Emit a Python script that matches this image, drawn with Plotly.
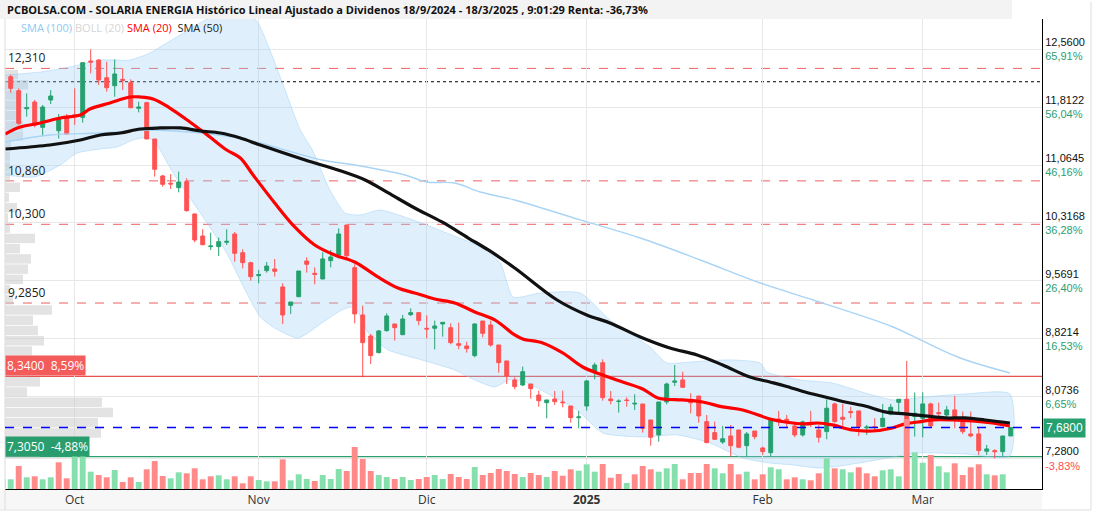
import plotly.graph_objects as go
import pandas as pd
import numpy as np

# ---------------- data ----------------
holidays = ['2024-12-25', '2024-12-26', '2025-01-01']
dates = [d for d in pd.bdate_range('2024-09-18', '2025-03-18') if d.strftime('%Y-%m-%d') not in holidays]

opens = [12.13, 12.203, 12.023, 11.791, 11.877, 11.550, 11.903, 11.507, 11.688, 11.713,
         11.679, 12.405, 12.418, 12.190, 12.087, 12.169, 12.126, 11.795, 11.868, 11.400,
         10.923, 10.830, 10.772, 10.850, 10.433, 10.149, 10.012, 10.012, 10.068, 10.175,
         9.934, 9.805, 9.638, 9.702, 9.724, 9.492, 9.255, 9.367, 9.827, 9.668,
         9.595, 9.831, 9.904, 10.291, 9.741, 9.131, 8.860, 8.645, 8.929, 9.015,
         8.877, 9.135, 9.161, 8.959, 8.959, 9.015, 8.967, 8.761, 8.731, 8.607,
         9.053, 9.002, 8.744, 8.538, 8.293, 8.228, 8.241, 8.099, 8.000, 8.048,
         8.009, 7.957, 7.807, 7.957, 8.387, 8.516, 8.048, 8.015, 8.035, 7.983,
         7.983, 7.777, 7.584, 8.009, 8.263, 8.293, 8.013, 8.086, 7.756, 7.614,
         7.493, 7.571, 7.648, 7.446, 7.635, 7.416, 7.356, 7.790, 7.786, 7.700,
         7.584, 7.730, 7.649, 7.627, 7.984, 7.812, 7.885, 7.894, 7.675, 7.690,
         7.692, 7.851, 8.005, 8.044, 7.821, 7.799, 7.984, 7.872, 7.842, 7.907,
         7.778, 7.597, 7.597, 7.374, 7.382, 7.369, 7.571]
highs = [12.16, 12.229, 12.053, 11.988, 11.903, 11.838, 12.031, 11.722, 11.722, 12.053,
         12.384, 12.556, 12.427, 12.397, 12.427, 12.311, 12.169, 11.881, 11.881, 11.400,
         10.936, 10.948, 10.979, 10.893, 10.441, 10.235, 10.192, 10.128, 10.235, 10.201,
         9.977, 9.818, 9.711, 9.814, 9.853, 9.539, 9.298, 9.698, 9.874, 9.745,
         9.939, 9.969, 10.248, 10.291, 9.784, 9.251, 8.886, 8.937, 9.152, 9.015,
         9.131, 9.217, 9.161, 9.126, 9.058, 9.036, 9.023, 9.032, 8.787, 9.023,
         9.053, 9.058, 8.744, 8.538, 8.327, 8.465, 8.241, 8.155, 8.035, 8.151,
         8.155, 7.957, 7.893, 8.293, 8.516, 8.559, 8.151, 8.043, 8.069, 8.108,
         7.983, 7.777, 8.009, 8.258, 8.486, 8.400, 8.121, 8.086, 7.841, 7.756,
         7.700, 7.713, 7.648, 7.622, 7.635, 7.433, 7.799, 7.894, 7.842, 7.756,
         7.769, 7.894, 7.713, 8.044, 8.001, 7.984, 7.949, 7.894, 7.713, 7.799,
         7.984, 7.984, 8.044, 8.538, 8.130, 8.134, 8.001, 8.001, 7.958, 8.087,
         7.885, 7.885, 7.683, 7.455, 7.399, 7.571, 7.680]
lows = [11.98, 11.997, 11.580, 11.688, 11.550, 11.438, 11.851, 11.408, 11.451, 11.580,
        11.610, 12.246, 12.096, 12.010, 11.945, 12.031, 11.795, 11.743, 11.400, 10.914,
        10.785, 10.755, 10.712, 10.463, 10.068, 10.029, 9.969, 9.891, 10.033, 9.818,
        9.732, 9.573, 9.539, 9.677, 9.625, 9.015, 9.144, 9.359, 9.677, 9.526,
        9.591, 9.745, 9.861, 9.861, 9.023, 8.327, 8.499, 8.637, 8.916, 8.800,
        8.869, 9.118, 8.998, 8.830, 8.688, 8.851, 8.753, 8.688, 8.645, 8.585,
        8.843, 8.722, 8.387, 8.241, 8.172, 8.215, 8.052, 7.949, 7.798, 7.970,
        7.940, 7.743, 7.670, 7.897, 8.301, 8.026, 7.979, 7.872, 7.949, 7.906,
        7.614, 7.446, 7.498, 7.979, 8.215, 8.198, 7.863, 7.743, 7.476, 7.519,
        7.468, 7.304, 7.412, 7.304, 7.528, 7.326, 7.305, 7.700, 7.683, 7.554,
        7.563, 7.683, 7.485, 7.528, 7.743, 7.670, 7.799, 7.571, 7.584, 7.627,
        7.683, 7.838, 7.842, 7.606, 7.563, 7.554, 7.683, 7.778, 7.786, 7.670,
        7.597, 7.554, 7.326, 7.326, 7.283, 7.313, 7.571]
closes = [12.02, 12.053, 11.602, 11.804, 11.580, 11.812, 11.954, 11.658, 11.464, 11.688,
          12.384, 12.392, 12.160, 12.061, 12.238, 12.156, 11.804, 11.812, 11.400, 11.009,
          10.815, 10.820, 10.845, 10.476, 10.098, 10.037, 10.020, 10.076, 10.080, 9.926,
          9.805, 9.625, 9.651, 9.762, 9.694, 9.131, 9.298, 9.698, 9.784, 9.655,
          9.853, 9.879, 10.175, 9.896, 9.144, 8.774, 8.607, 8.925, 9.118, 8.967,
          9.079, 9.161, 9.058, 8.950, 8.989, 9.036, 8.774, 8.740, 8.697, 9.015,
          8.894, 8.744, 8.516, 8.344, 8.207, 8.400, 8.181, 8.026, 8.035, 8.013,
          8.000, 7.807, 7.816, 8.280, 8.486, 8.065, 8.026, 8.020, 8.028, 7.992,
          7.670, 7.554, 8.009, 8.241, 8.280, 8.198, 8.000, 7.829, 7.485, 7.528,
          7.535, 7.446, 7.425, 7.597, 7.562, 7.369, 7.775, 7.780, 7.769, 7.584,
          7.752, 7.720, 7.554, 7.928, 7.756, 7.786, 7.872, 7.690, 7.685, 7.680,
          7.799, 7.941, 8.044, 7.614, 7.864, 7.984, 7.700, 7.859, 7.907, 7.778,
          7.627, 7.571, 7.382, 7.404, 7.369, 7.5702, 7.680]
volumes = [100, 97, 230, 117, 127, 97, 117, 267, 107, 367,
           363, 173, 140, 117, 190, 70, 117, 70, 197, 280,
           130, 107, 167, 157, 207, 97, 127, 137, 97, 127,
           57, 127, 90, 77, 77, 297, 87, 147, 100, 80,
           140, 100, 200, 180, 420, 300, 180, 140, 120, 100,
           120, 90, 100, 120, 140, 100, 150, 120, 100, 220,
           140, 160, 200, 180, 150, 120, 160, 140, 120, 180,
           133, 197, 183, 247, 173, 250, 113, 150, 60, 147,
           230, 197, 173, 207, 250, 97, 160, 160, 250, 207,
           157, 250, 147, 173, 97, 147, 217, 197, 97, 117,
           97, 87, 157, 307, 207, 197, 167, 217, 157, 127,
           187, 197, 127, 700, 367, 263, 340, 227, 167, 257,
           140, 217, 247, 147, 137, 147, 0]

# moving averages / bands (sample index, value)
sma20_x = [0.3, 2.2, 4.7, 7.2, 9.7, 10.9, 13.4, 15.9, 17.2, 18.8, 20.9, 23.4, 25.9, 28.0, 29.7, 31.3,
           34.0, 36.5, 39.0, 41.5, 44.0, 46.9, 49.4, 51.5, 54.0, 56.5, 59.0, 61.5, 64.0, 65.0, 67.5,
           70.0, 72.5, 75.0, 77.5, 80.0, 81.9, 85.0, 87.5, 90.0, 92.5, 95.9, 97.8, 100.3, 101.9, 103.7,
           106.2, 108.7, 111.2, 112.8, 114.4, 116.2, 118.7, 121.2, 123.7, 125.9]
sma20_y = [11.464, 11.554, 11.606, 11.670, 11.709, 11.786, 11.864, 11.941, 11.941, 11.915, 11.799,
           11.619, 11.426, 11.258, 11.155, 10.936, 10.575, 10.266, 10.033, 9.904, 9.814, 9.621, 9.479,
           9.415, 9.337, 9.286, 9.170, 9.067, 8.873, 8.821, 8.770, 8.641, 8.460, 8.357, 8.267, 8.177,
           8.061, 8.035, 8.009, 7.945, 7.906, 7.790, 7.751, 7.726, 7.738, 7.713, 7.648, 7.635, 7.674,
           7.726, 7.751, 7.777, 7.777, 7.764, 7.738, 7.700]
sma50_x = [0.3, 3.4, 5.9, 9.7, 12.2, 14.7, 17.2, 19.7, 22.2, 24.7, 27.2, 29.7, 32.2, 37.8, 41.9, 45.3,
           48.2, 51.5, 54.9, 58.2, 60.7, 64.0, 69.3, 73.0, 75.9, 80.0, 83.4, 86.8, 90.0, 93.4, 95.9,
           97.8, 100.3, 102.8, 105.3, 107.8, 110.3, 112.8, 115.3, 117.8, 120.3, 122.8, 125.9]
sma50_y = [11.271, 11.297, 11.322, 11.387, 11.451, 11.477, 11.529, 11.542, 11.542, 11.503, 11.477,
           11.413, 11.322, 11.129, 11.000, 10.871, 10.704, 10.510, 10.330, 10.123, 9.969, 9.737, 9.324,
           9.131, 9.028, 8.834, 8.705, 8.615, 8.486, 8.331, 8.267, 8.216, 8.138, 8.074, 8.009, 7.958,
           7.881, 7.855, 7.829, 7.803, 7.803, 7.777, 7.738]
sma100_x = [0.3, 5.9, 12.2, 18.4, 24.7, 28.8, 32.2, 39.9, 44.0, 50.3, 53.0, 56.5, 59.7, 64.0, 72.2,
            79.7, 87.2, 94.7, 101.3, 105.9, 111.3, 115.5, 119.7, 125.9]
sma100_y = [11.361, 11.451, 11.477, 11.516, 11.477, 11.426, 11.348, 11.129, 11.065, 10.936, 10.845,
            10.832, 10.716, 10.613, 10.356, 10.123, 9.840, 9.543, 9.324, 9.170, 8.976, 8.770, 8.576, 8.383]
boll_up_x = [0.3, 4.7, 8.4, 12.2, 15.9, 18.4, 20.5, 22.2, 24.7, 27.8, 30.3, 31.9, 33.4, 35.3, 37.2, 38.7,
             40.9, 42.8, 44.7, 47.2, 51.3, 55.5, 59.7, 62.2, 63.8, 67.2, 72.2, 75.9, 80.9, 83.0, 85.9,
             90.9, 94.7, 95.5, 99.7, 103.7, 107.8, 111.3, 115.3, 120.3, 125.9]
boll_up_y = [12.225, 12.263, 12.328, 12.418, 12.418, 12.508, 12.637, 12.740, 12.900, 13.050, 13.050,
             12.900, 12.547, 12.031, 11.516, 11.258, 10.742, 10.446, 10.420, 10.484, 10.356, 10.188,
             10.007, 9.801, 9.363, 9.414, 9.414, 9.066, 8.718, 8.512, 8.525, 8.551, 8.512, 8.396, 8.293,
             8.254, 8.125, 8.035, 8.074, 8.112, 8.112]
boll_lo_x = [0.3, 4.0, 7.2, 9.3, 12.2, 14.3, 16.3, 17.5, 18.8, 21.3, 24.7, 28.0, 30.5, 32.2, 34.0, 36.9,
             39.9, 42.4, 44.0, 45.7, 48.2, 52.4, 56.5, 59.0, 61.5, 63.4, 65.0, 67.5, 71.8, 75.0, 80.0,
             84.3, 88.4, 92.5, 95.9, 98.8, 101.9, 104.7, 107.8, 111.3, 114.4, 120.3, 125.9]
boll_lo_y = [10.936, 10.910, 11.065, 11.219, 11.271, 11.297, 11.387, 11.413, 11.387, 10.961, 10.446,
             9.930, 9.414, 9.105, 8.963, 8.834, 9.028, 9.195, 9.234, 8.899, 8.680, 8.551, 8.422, 8.293,
             8.203, 8.300, 8.280, 8.151, 7.906, 7.610, 7.558, 7.584, 7.481, 7.287, 7.223, 7.197, 7.158,
             7.184, 7.236, 7.300, 7.352, 7.339, 7.313]

# volume profile (bins between min and max price)
prof_lo, prof_hi = 7.28, 12.56
profile_vol = [35, 49, 96, 93, 108, 97, 22, 35, 25, 20, 27, 39, 33, 28, 47, 8, 5, 18, 23, 26,
               15, 30, 5, 3, 12, 4, 15, 5, 5, 5, 6, 18, 18, 15, 16, 15, 23, 13, 0, 0]

# reference levels
res_levels = [12.31, 10.86, 10.30, 9.285]
res_labels = ['12,310', '10,860', '10,300', '9,2850']
start_price = 12.138
upper_mark = 8.34
lower_mark = 7.305
y_ticks = [12.56, 11.8122, 11.0645, 10.3168, 9.5691, 8.8214, 8.0736, 7.28]

month_names = {1: 'Ene', 2: 'Feb', 3: 'Mar', 4: 'Abr', 5: 'May', 6: 'Jun', 7: 'Jul',
               8: 'Ago', 9: 'Sep', 10: 'Oct', 11: 'Nov', 12: 'Dic'}

# ---------------- derived ----------------
n = len(dates)
idx = list(range(n))
last = closes[-1]
prev = closes[-2]

GREEN = '#26a06e'
RED = '#ff5252'

def fmt(v, d=4):
    return f"{v:.{d}f}".replace('.', ',')

def pct(v, base):
    return f"{(v / base - 1) * 100:.2f}".replace('.', ',') + '%'

tickvals, ticktext = [], []
for k in range(1, n):
    if dates[k].month != dates[k - 1].month:
        tickvals.append(k)
        if dates[k].month == 1:
            ticktext.append(f"<b>{dates[k].year}</b>")
        else:
            ticktext.append(month_names[dates[k].month])

vol_colors = ['#86e0ae' if (i == 0 or closes[i] >= closes[i - 1]) else '#ff8a8a' for i in range(n)]

bin_h = (prof_hi - prof_lo) / len(profile_vol)
prof_centers = [prof_lo + bin_h * (k + 0.5) for k in range(len(profile_vol))]

XR = [0.2875, 129.91]
YR = [6.887, 12.947]
prof_scale = 1 / 8.0  # volume-profile units -> x index units

fig = go.Figure()

# profile (bottom layer)
fig.add_trace(go.Bar(x=[v * prof_scale for v in profile_vol], y=prof_centers, base=XR[0],
                     orientation='h', width=bin_h * 0.92,
                     marker=dict(color='rgba(200,200,200,0.5)', line=dict(width=0)),
                     xaxis='x', yaxis='y', hoverinfo='skip', showlegend=False))
# bollinger fill
fig.add_trace(go.Scatter(x=boll_up_x + boll_lo_x[::-1], y=boll_up_y + boll_lo_y[::-1],
                         fill='toself', fillcolor='rgba(150,205,245,0.30)',
                         line=dict(color='rgba(150,205,245,0.45)', width=1, shape='spline', smoothing=0.6),
                         mode='lines', xaxis='x', yaxis='y', hoverinfo='skip', showlegend=False))

# candles
fig.add_trace(go.Candlestick(x=idx, open=opens, high=highs, low=lows, close=closes,
                             increasing=dict(line=dict(color=GREEN, width=1), fillcolor=GREEN),
                             decreasing=dict(line=dict(color=RED, width=1), fillcolor=RED),
                             whiskerwidth=0, xaxis='x2', yaxis='y', showlegend=False))
# moving averages
fig.add_trace(go.Scatter(x=sma100_x, y=sma100_y, mode='lines',
                         line=dict(color='#a9d4f5', width=1.4, shape='spline'),
                         xaxis='x2', yaxis='y', showlegend=False))
fig.add_trace(go.Scatter(x=sma20_x, y=sma20_y, mode='lines',
                         line=dict(color='#ff0000', width=3.2, shape='spline'),
                         xaxis='x2', yaxis='y', showlegend=False))
fig.add_trace(go.Scatter(x=sma50_x, y=sma50_y, mode='lines',
                         line=dict(color='#111111', width=3.2, shape='spline'),
                         xaxis='x2', yaxis='y', showlegend=False))
# volume
fig.add_trace(go.Bar(x=idx, y=volumes, width=0.74, marker=dict(color=vol_colors, line=dict(width=0)),
                     xaxis='x2', yaxis='y2', showlegend=False, hoverinfo='skip'))

# right axis tick labels
ytext = []
for v in y_ticks:
    col = '#2e9e70' if v >= prev else '#ff4d4d'
    ytext.append(f"{fmt(v)}<br><span style='color:{col}'>{pct(v, prev)}</span>")

PX_W, PX_H = 1037.0, 470.0

shapes = []
# title bar and frames
shapes.append(dict(type='rect', xref='paper', yref='paper', x0=-5 / PX_W, x1=(1012 - 5) / PX_W,
                   y0=1, y1=1 + 19 / PX_H, fillcolor='#f3f3f3', line=dict(width=0), layer='below'))
shapes.append(dict(type='rect', xref='paper', yref='paper', x0=-5 / PX_W, x1=1,
                   y0=-20 / PX_H, y1=0, fillcolor='#f7f7f7', line=dict(width=0), layer='below'))
shapes.append(dict(type='line', xref='paper', yref='paper', x0=(1091 - 5) / PX_W, x1=(1091 - 5) / PX_W,
                   y0=-21 / PX_H, y1=1 + 17 / PX_H, line=dict(color='#dddddd', width=1)))
shapes.append(dict(type='line', xref='paper', yref='paper', x0=-5 / PX_W, x1=(1091 - 5) / PX_W,
                   y0=-21 / PX_H, y1=-21 / PX_H, line=dict(color='#dddddd', width=1)))
shapes.append(dict(type='line', xref='paper', yref='paper', x0=0, x1=0,
                   y0=-21 / PX_H, y1=1, line=dict(color='#dddddd', width=1)))
# levels
for lv in res_levels:
    shapes.append(dict(type='line', xref='paper', yref='y', x0=0, x1=1, y0=lv, y1=lv,
                       line=dict(color='#f06060', width=1, dash='dash'), layer='between'))
shapes.append(dict(type='line', xref='paper', yref='y', x0=0, x1=1, y0=start_price, y1=start_price,
                   line=dict(color='#000000', width=1, dash='dot'), layer='between'))
shapes.append(dict(type='line', xref='paper', yref='y', x0=0, x1=1, y0=upper_mark, y1=upper_mark,
                   line=dict(color='#e85050', width=1.3), layer='between'))
shapes.append(dict(type='line', xref='paper', yref='y', x0=0, x1=1, y0=lower_mark, y1=lower_mark,
                   line=dict(color='#2e9e6e', width=1.3), layer='between'))
shapes.append(dict(type='line', xref='paper', yref='y', x0=0, x1=1, y0=last, y1=last,
                   line=dict(color='#0000ff', width=1.3, dash='dash'), layer='above'))

annotations = []
title = ("PCBOLSA.COM - SOLARIA ENERGIA Histórico Lineal Ajustado a Dividenos 18/9/2024 - 18/3/2025 , "
         "9:01:29 Renta: -36,73%")
annotations.append(dict(text=f"<b>{title}</b>", xref='paper', yref='paper', x=0, y=1 + 9.5 / PX_H,
                        xanchor='left', yanchor='middle', showarrow=False,
                        font=dict(family='Open Sans', size=11, color='#111111')))
leg = ("<span style='color:#8ec9f2'>SMA (100)</span> <span style='color:#d6d6d6'>BOLL (20)</span> "
       "<span style='color:#ff0000'>SMA (20)</span>  <span style='color:#222222'>SMA (50)</span>")
annotations.append(dict(text=leg, xref='paper', yref='paper', x=(19 - 5) / PX_W, y=1 - 9 / PX_H,
                        xanchor='left', yanchor='middle', showarrow=False,
                        font=dict(family='Open Sans', size=11)))
for lv, lb in zip(res_levels, res_labels):
    annotations.append(dict(text=lb, xref='paper', yref='y', x=0, y=lv, xshift=1, yshift=0,
                            xanchor='left', yanchor='bottom', showarrow=False,
                            font=dict(family='Open Sans', size=12, color='#222222')))
annotations.append(dict(text=f"{fmt(upper_mark)}  {pct(upper_mark, last)}", xref='paper', yref='y',
                        x=0, y=upper_mark, xanchor='left', yanchor='bottom', showarrow=False,
                        bgcolor='#f45b5b', borderpad=1, font=dict(family='Open Sans', size=12, color='white')))
annotations.append(dict(text=f"{fmt(lower_mark)}  {pct(lower_mark, last)}", xref='paper', yref='y',
                        x=0, y=lower_mark, xanchor='left', yanchor='bottom', showarrow=False,
                        bgcolor='#2a9d6e', borderpad=1, font=dict(family='Open Sans', size=12, color='white')))
annotations.append(dict(text=fmt(last), xref='paper', yref='y', x=1, y=last, xshift=1,
                        xanchor='left', yanchor='middle', showarrow=False,
                        bgcolor='#26a06e', borderpad=2,
                        font=dict(family='Liberation Sans, Arial', size=12, color='white')))

fig.update_layout(
    width=1096, height=512,
    margin=dict(l=5, r=54, t=19, b=23),
    paper_bgcolor='white', plot_bgcolor='white',
    showlegend=False, bargap=0.2,
    shapes=shapes, annotations=annotations,
    xaxis=dict(range=XR, tickvals=tickvals, ticktext=ticktext, showgrid=True, gridcolor='#e8e8e8',
               gridwidth=1, showline=True, linecolor='#000000', linewidth=1, ticks='', zeroline=False,
               tickfont=dict(family='Open Sans', size=12, color='#333333'), rangeslider=dict(visible=False)),
    xaxis2=dict(overlaying='x', matches='x', visible=False, rangeslider=dict(visible=False)),
    yaxis=dict(range=YR, side='right', tickvals=y_ticks, ticktext=ytext, showgrid=True, gridcolor='#e8e8e8',
               showline=True, linecolor='#000000', linewidth=1, ticks='', zeroline=False,
               tickfont=dict(family='Liberation Sans, Arial', size=11, color='#111111')),
    yaxis2=dict(overlaying='y', range=[0, 4700], visible=False),
)

fig.write_html("out.html")
